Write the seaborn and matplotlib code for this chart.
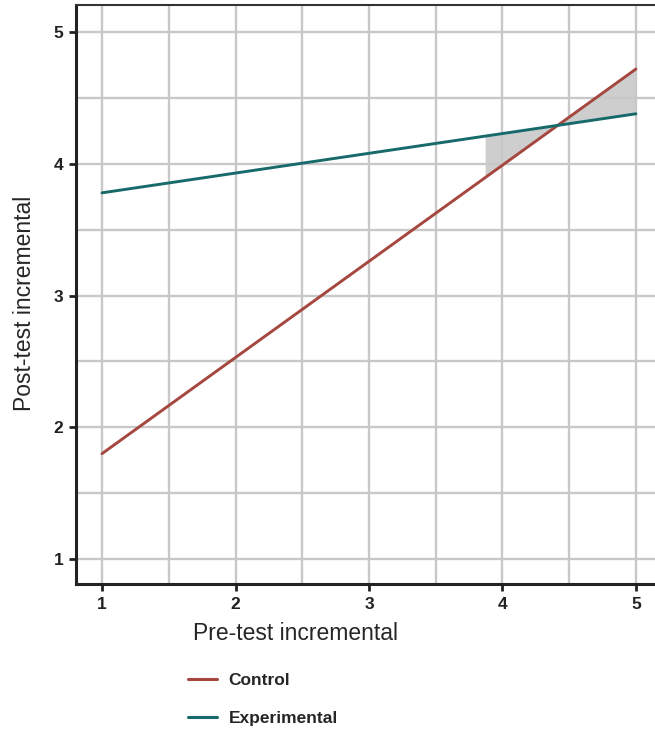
import pandas as pd
import seaborn as sns
import matplotlib.pyplot as plt
import numpy as np

# Line endpoints
pre = [1, 5]
control_post = [1.80, 4.72]
experimental_post = [3.78, 4.38]
groups = ['Control', 'Experimental']
# region of significance (shaded), from this x to the right edge
region_x = [3.87, 5]

xticks = [1, 2, 3, 4, 5]
yticks = [1, 2, 3, 4, 5]

df = pd.DataFrame({
    'pre': pre + pre,
    'post': control_post + experimental_post,
    'group': [groups[0]] * 2 + [groups[1]] * 2,
})

sns.set_style('white')
plt.rcParams['font.family'] = ['Liberation Sans', 'DejaVu Sans']

fig = plt.figure(figsize=(6.55, 7.31), dpi=100)
ax = fig.add_axes([0.116, 0.201, 0.89, 0.792])

palette = {'Control': '#a5473f', 'Experimental': '#176a6b'}

# shaded band between the two lines
y_c = np.interp(region_x, pre, control_post)
y_e = np.interp(region_x, pre, experimental_post)
ax.fill_between(region_x, y_c, y_e, color='#c9c9c9', alpha=0.9, lw=0, zorder=1)

sns.lineplot(data=df, x='pre', y='post', hue='group', palette=palette,
             linewidth=2.1, ax=ax, zorder=3, legend=False)

ax.set_xlim(0.805, 5.172)
ax.set_ylim(0.81, 5.205)
ax.set_xticks(xticks)
ax.set_yticks(yticks)
ax.set_xticks([1.5, 2.5, 3.5, 4.5], minor=True)
ax.set_yticks([1.5, 2.5, 3.5, 4.5], minor=True)
ax.grid(True, which='both', color='#c8c8c8', linewidth=1.7, zorder=0)
ax.set_axisbelow(True)
ax.tick_params(which='minor', length=0)
ax.tick_params(which='major', direction='out', length=5, width=2, color='#222222',
               labelsize=12.5, pad=4, bottom=True, left=True)
for lab in ax.get_xticklabels() + ax.get_yticklabels():
    lab.set_fontweight('bold')
    lab.set_color('#222222')

for side in ['left', 'bottom']:
    ax.spines[side].set_linewidth(2.2)
    ax.spines[side].set_color('#222222')
for side in ['top', 'right']:
    ax.spines[side].set_linewidth(1.5)
    ax.spines[side].set_color('#333333')

ax.set_xlabel('Pre-test incremental', fontsize=16.5)
ax.set_ylabel('Post-test incremental', fontsize=16.5)
ax.xaxis.set_label_coords(0.376, -0.066)
ax.yaxis.set_label_coords(-0.069, 0.484)

handles = [plt.Line2D([], [], color=palette[g], lw=2.2) for g in groups]
leg = fig.legend(handles, groups, loc='center left', bbox_to_anchor=(0.263, 0.043),
                 frameon=False, handlelength=1.65, handletextpad=0.7, labelspacing=1.3,
                 prop={'size': 12.5, 'weight': 'bold'})

fig.savefig('out.png', dpi=100)
